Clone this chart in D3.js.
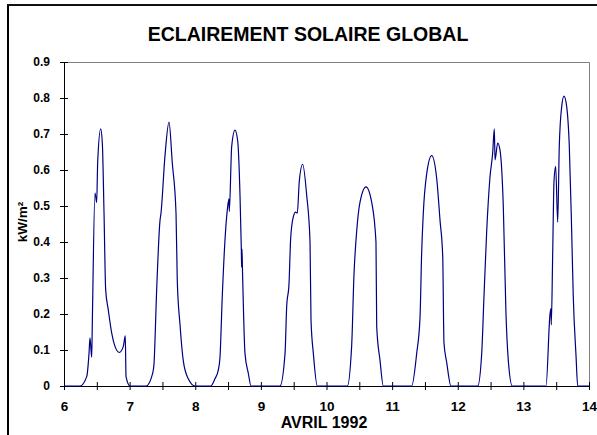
<!DOCTYPE html>
<html>
<head>
<meta charset="utf-8">
<script src="https://cdn.jsdelivr.net/npm/d3@7"></script>
<style>
  html, body { margin: 0; padding: 0; background: #fff; }
  svg { display: block; font-family: Arial, "Liberation Sans", sans-serif; }
</style>
</head>
<body>
<svg id="chart" width="597" height="435"></svg>
<script>
// ---- data ----
const title = "ECLAIREMENT SOLAIRE GLOBAL";
const xLabel = "AVRIL 1992";
const yLabel = "kW/m²";
const xTicks = [6, 7, 8, 9, 10, 11, 12, 13, 14];
const yTicks = [0, 0.1, 0.2, 0.3, 0.4, 0.5, 0.6, 0.7, 0.8, 0.9];

// time in days (April), irradiance in kW/m²
const time = [
  6.000, 6.244, 6.346, 6.381, 6.396, 6.422, 6.431, 6.472, 6.498, 6.513, 6.559, 6.584, 6.610, 6.635, 6.676, 6.727, 6.777, 6.843, 6.904, 6.934, 6.945, 7.006,
  7.250, 7.352, 7.371, 7.412, 7.463, 7.478, 7.539, 7.600, 7.650, 7.707, 7.726, 7.768, 7.818, 7.894, 7.996,
  8.235, 8.300, 8.351, 8.377, 8.412, 8.453, 8.489, 8.514, 8.519, 8.555, 8.606, 8.647, 8.682, 8.702, 8.707, 8.712, 8.720, 8.758, 8.808, 8.850,
  9.291, 9.368, 9.393, 9.429, 9.454, 9.494, 9.530, 9.555, 9.586, 9.637, 9.698, 9.749, 9.764, 9.800, 9.860,
  10.317, 10.383, 10.419, 10.460, 10.510, 10.602, 10.689, 10.754, 10.765, 10.815, 10.866,
  11.298, 11.374, 11.425, 11.450, 11.475, 11.527, 11.603, 11.680, 11.730, 11.771, 11.790, 11.832, 11.897,
  12.304, 12.365, 12.400, 12.441, 12.491, 12.532, 12.557, 12.568, 12.609, 12.644, 12.694, 12.735, 12.770, 12.831,
  13.345, 13.406, 13.421, 13.425, 13.447, 13.467, 13.492, 13.523, 13.547, 13.584, 13.619, 13.660, 13.700, 13.736, 13.760, 13.802, 13.828, 14.000
];
const irradiance = [
  0, 0, 0.026, 0.09, 0.134, 0.08, 0.17, 0.536, 0.51, 0.62, 0.714, 0.675, 0.48, 0.267, 0.21, 0.147, 0.11, 0.093, 0.11, 0.139, 0.026, 0,
  0, 0.036, 0.06, 0.267, 0.46, 0.48, 0.64, 0.733, 0.62, 0.48, 0.294, 0.17, 0.07, 0.02, 0,
  0, 0.02, 0.044, 0.08, 0.25, 0.405, 0.49, 0.52, 0.485, 0.665, 0.711, 0.68, 0.53, 0.38, 0.33, 0.38, 0.32, 0.09, 0.036, 0,
  0, 0.09, 0.22, 0.285, 0.41, 0.47, 0.483, 0.48, 0.57, 0.616, 0.53, 0.40, 0.183, 0.09, 0,
  0, 0.11, 0.31, 0.43, 0.51, 0.553, 0.51, 0.40, 0.165, 0.072, 0,
  0, 0.09, 0.19, 0.37, 0.48, 0.59, 0.64, 0.575, 0.46, 0.36, 0.12, 0.065, 0,
  0, 0.09, 0.25, 0.43, 0.58, 0.647, 0.714, 0.628, 0.675, 0.655, 0.50, 0.20, 0.072, 0,
  0, 0.20, 0.215, 0.17, 0.37, 0.57, 0.61, 0.455, 0.665, 0.776, 0.805, 0.776, 0.665, 0.43, 0.25, 0.085, 0, 0
];

(function () {
// ---- layout ----
const svg = d3.select("#chart");
const pLeft = 64, pRight = 589, pTop = 62, pBottom = 386;
const FONT = "Arial, 'Liberation Sans', sans-serif";

const x = d3.scaleLinear().domain([6, 14]).range([pLeft, pRight]);
const y = d3.scaleLinear().domain([0, 0.9]).range([pBottom, pTop]);

// outer frame
svg.append("line").attr("x1", 8).attr("x2", 8).attr("y1", 4).attr("y2", 435)
  .attr("stroke", "#000").attr("stroke-width", 2);
svg.append("line").attr("x1", 7).attr("x2", 597).attr("y1", 5).attr("y2", 5)
  .attr("stroke", "#111").attr("stroke-width", 2);

// plot area top/right border (gray)
svg.append("path")
  .attr("d", `M${pLeft},${pTop + 0.5}H${pRight + 0.5}V${pBottom}`)
  .attr("fill", "none").attr("stroke", "#808080").attr("stroke-width", 1);

// title
svg.append("text").attr("x", 308).attr("y", 41).attr("text-anchor", "middle")
  .attr("font-size", 19.5).attr("font-weight", "bold").text(title);

// y axis
const yAxis = d3.axisLeft(y).tickValues(yTicks)
  .tickFormat(d => d === 0 ? "0" : d3.format(".1f")(d))
  .tickSizeInner(4).tickSizeOuter(0).tickPadding(10);
const gy = svg.append("g").attr("transform", `translate(${pLeft},0)`).call(yAxis);
gy.select(".domain").attr("stroke", "#000");
gy.selectAll(".tick line").attr("x2", 4).attr("x1", -4).attr("stroke", "#000");
gy.selectAll(".tick text").attr("font-size", 12).attr("font-weight", "bold")
  .attr("font-family", FONT).attr("fill", "#000");

// x axis
const xAxis = d3.axisBottom(x).tickValues(d3.range(6, 14.01, 0.5))
  .tickFormat(d => xTicks.includes(d) ? d : "")
  .tickSizeInner(4).tickSizeOuter(0).tickPadding(11);
const gx = svg.append("g").attr("transform", `translate(0,${pBottom})`).call(xAxis);
gx.select(".domain").attr("stroke", "#000");
gx.selectAll(".tick line").attr("y1", -4).attr("y2", 4).attr("stroke", "#000");
gx.selectAll(".tick text").attr("font-size", 13.5).attr("font-weight", "bold")
  .attr("font-family", FONT).attr("fill", "#000");

// axis titles
svg.append("text").attr("x", 324).attr("y", 428).attr("text-anchor", "middle")
  .attr("font-size", 16).attr("font-weight", "bold").text(xLabel);
svg.append("text").attr("transform", `translate(27,222) rotate(-90)`)
  .attr("text-anchor", "middle").attr("font-size", 13.5).attr("font-weight", "bold").text(yLabel);

// series
const pts = time.map((t, i) => [t, irradiance[i]]);
const line = d3.line().x(d => x(d[0])).y(d => y(d[1])).curve(d3.curveMonotoneX);
svg.append("path").datum(pts).attr("d", line)
  .attr("fill", "none").attr("stroke", "#000080").attr("stroke-width", 1.2);
})();
</script>
</body>
</html>
